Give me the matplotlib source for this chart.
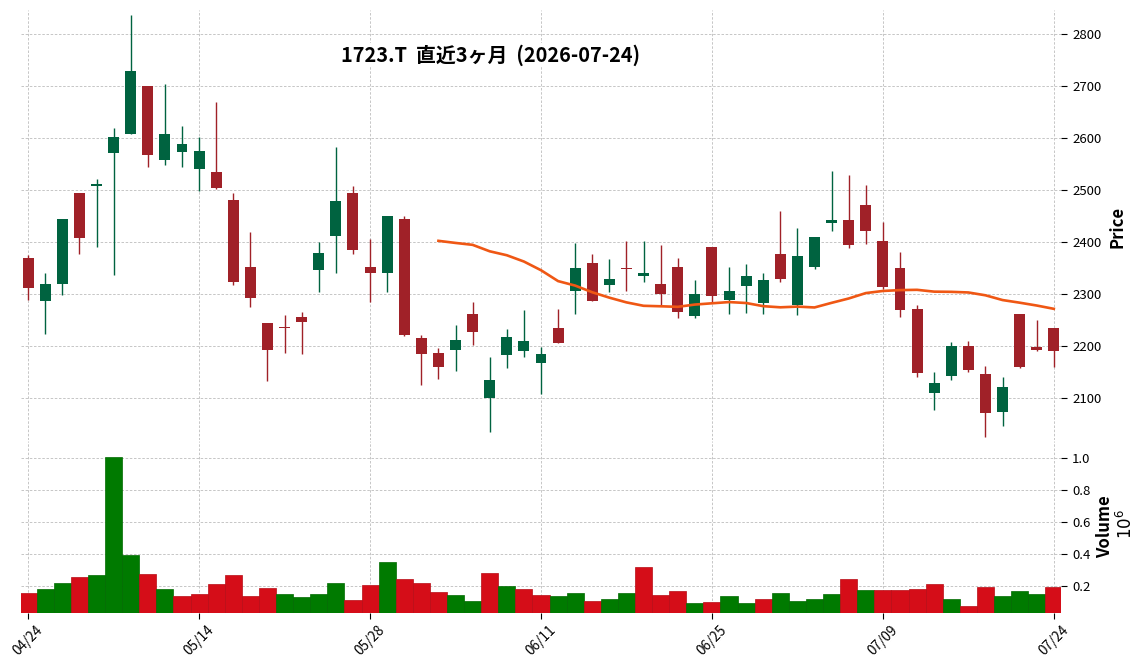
import numpy as np
import pandas as pd
import matplotlib
matplotlib.use("Agg")
import matplotlib.pyplot as plt

plt.rcParams['font.family'] = ['Noto Sans CJK JP', 'DejaVu Sans']

ticker = "1723.T"
title = "1723.T  直近3ヶ月  (2026-07-24)"

dates = ["04/24", "04/27", "04/28", "04/30", "05/01", "05/07", "05/08", "05/11", "05/12", "05/13",
         "05/14", "05/15", "05/18", "05/19", "05/20", "05/21", "05/22", "05/25", "05/26", "05/27",
         "05/28", "05/29", "06/01", "06/02", "06/03", "06/04", "06/05", "06/08", "06/09", "06/10",
         "06/11", "06/12", "06/15", "06/16", "06/17", "06/18", "06/19", "06/22", "06/23", "06/24",
         "06/25", "06/26", "06/29", "06/30", "07/01", "07/02", "07/03", "07/06", "07/07", "07/08",
         "07/09", "07/10", "07/13", "07/14", "07/15", "07/16", "07/17", "07/21", "07/22", "07/23",
         "07/24"]

opens = [2370, 2288, 2320, 2495, 2509, 2572, 2609, 2701, 2558, 2574,
         2540, 2535, 2481, 2353, 2245, 2237, 2256, 2347, 2413, 2495,
         2353, 2340, 2445, 2216, 2187, 2192, 2262, 2101, 2184, 2190,
         2167, 2235, 2307, 2360, 2318, 2351, 2336, 2320, 2353, 2259,
         2391, 2289, 2315, 2284, 2378, 2280, 2353, 2438, 2443, 2472,
         2403, 2351, 2272, 2111, 2142, 2201, 2147, 2074, 2262, 2199,
         2235]
highs = [2376, 2340, 2445, 2495, 2522, 2619, 2838, 2701, 2704, 2623,
         2603, 2669, 2494, 2419, 2245, 2260, 2265, 2400, 2583, 2508,
         2407, 2451, 2450, 2221, 2197, 2241, 2285, 2180, 2233, 2269,
         2199, 2271, 2398, 2377, 2367, 2402, 2402, 2394, 2369, 2327,
         2391, 2352, 2358, 2340, 2461, 2427, 2410, 2538, 2530, 2510,
         2439, 2381, 2279, 2150, 2208, 2210, 2162, 2141, 2262, 2251,
         2236]
lows = [2289, 2224, 2298, 2377, 2390, 2337, 2609, 2544, 2548, 2544,
        2499, 2503, 2317, 2276, 2133, 2187, 2185, 2305, 2340, 2378,
        2285, 2304, 2220, 2125, 2137, 2153, 2203, 2035, 2158, 2179,
        2108, 2207, 2262, 2287, 2305, 2307, 2323, 2280, 2254, 2254,
        2284, 2262, 2264, 2262, 2324, 2260, 2348, 2421, 2389, 2396,
        2310, 2256, 2140, 2078, 2135, 2151, 2026, 2046, 2159, 2191,
        2160]
closes = [2313, 2320, 2445, 2408, 2512, 2603, 2730, 2567, 2608, 2589,
          2576, 2505, 2324, 2292, 2192, 2235, 2247, 2380, 2480, 2385,
          2340, 2451, 2221, 2186, 2161, 2212, 2228, 2135, 2218, 2210,
          2185, 2207, 2351, 2287, 2330, 2349, 2341, 2301, 2265, 2301,
          2296, 2306, 2335, 2328, 2330, 2374, 2410, 2443, 2395, 2421,
          2314, 2269, 2149, 2130, 2201, 2155, 2071, 2122, 2161, 2193,
          2190]
volumes = [158000, 183000, 221000, 258000, 271000, 1008000, 396000, 277000, 183000, 140000,
           152000, 215000, 271000, 140000, 190000, 152000, 133000, 152000, 221000, 115000,
           208000, 352000, 246000, 221000, 165000, 146000, 108000, 283000, 202000, 183000,
           146000, 140000, 158000, 108000, 121000, 158000, 321000, 146000, 171000, 96000,
           102000, 140000, 96000, 121000, 158000, 108000, 121000, 152000, 246000, 177000,
           177000, 177000, 183000, 215000, 121000, 77000, 196000, 140000, 171000, 152000,
           196000]

df = pd.DataFrame({"Open": opens, "High": highs, "Low": lows, "Close": closes, "Volume": volumes})
df["MA25"] = df["Close"].rolling(25).mean()

up_c, down_c = "#006340", "#a02128"
vup_c, vdown_c = "#007a00", "#d50d18"
grid_kw = dict(color="#bdbdbd", linestyle=(0, (3, 2)), linewidth=0.6)

W, H = 1148, 670
fig = plt.figure(figsize=(W / 100, H / 100), dpi=100)
ax = fig.add_axes([21 / W, 1 - 440 / H, 1040 / W, 430 / H])
axv = fig.add_axes([21 / W, 1 - 613 / H, 1040 / W, 172 / H], sharex=ax)

x = np.arange(len(df))
up = df["Close"] >= df["Open"]
ccol = np.where(up, up_c, down_c)

# candles
ax.vlines(x, df["Low"], df["High"], colors=ccol, linewidth=1.0, zorder=2)
body_lo = np.minimum(df["Open"], df["Close"])
body_h = np.maximum((df["Close"] - df["Open"]).abs(), 1.5)
ax.bar(x, body_h, bottom=body_lo, width=0.64, color=ccol, linewidth=0, zorder=3)
ax.plot(x, df["MA25"], color="#ef5714", linewidth=1.9, zorder=4)

# volume colored by change from previous close
prev = df["Close"].shift(1).fillna(df["Open"])
vup = df["Close"] > prev
vcol = np.where(vup, vup_c, vdown_c)
vedge = np.where(vup, "#006a00", "#b80b15")
axv.bar(x, df["Volume"] / 1e6, width=1.0, color=vcol, edgecolor=vedge, linewidth=0.5, zorder=2)

ax.set_xlim(-0.42, len(df) - 1 + 0.42)
ax.set_ylim(2019.8, 2846.7)
axv.set_ylim(0.033, 1.1 * df["Volume"].max() / 1e6)

for a in (ax, axv):
    for s in a.spines.values():
        s.set_visible(False)
    a.grid(True, **grid_kw)
    a.set_axisbelow(True)
    a.yaxis.tick_right()
    a.tick_params(axis="y", direction="out", length=4, width=0.8, pad=4, labelsize=9.5)

ax.set_yticks(np.arange(2100, 2801, 100))
axv.set_yticks([0.2, 0.4, 0.6, 0.8, 1.0])
axv.set_yticklabels(["0.2", "0.4", "0.6", "0.8", "1.0"])

ticks = list(range(0, len(df), 10))
axv.set_xticks(ticks)
axv.set_xticklabels([dates[i] for i in ticks], rotation=45, ha="center")
axv.tick_params(axis="x", direction="out", length=4, width=0.8, labelsize=9.8, pad=3)
ax.tick_params(axis="x", length=0, labelbottom=False)

fig.text(1118 / W, 1 - 227 / H, "Price", rotation=90, ha="center", va="center",
         fontsize=12, fontweight="bold")
fig.text(1105 / W, 1 - 527 / H, "Volume", rotation=90, ha="center", va="center",
         fontsize=12, fontweight="bold")
fig.text(1126 / W, 1 - 524 / H, "$10^{6}$", rotation=90, ha="center", va="center",
         fontsize=12)

fig.text(491 / W, 1 - 55 / H, title, ha="center", va="center", fontsize=14.3,
         fontweight="bold", bbox=dict(facecolor="white", edgecolor="none", pad=1))

fig.savefig("out.png", dpi=100)
